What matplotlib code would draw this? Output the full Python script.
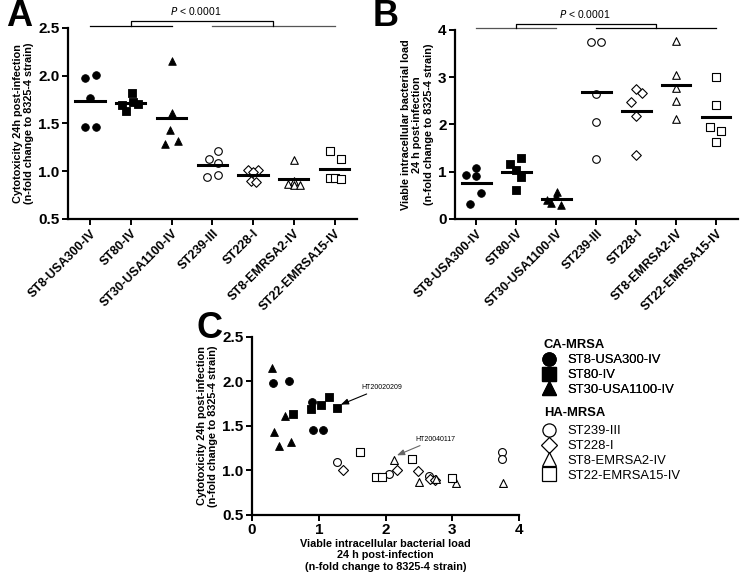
import numpy as np
import matplotlib
matplotlib.use('Agg')
import matplotlib.pyplot as plt
from matplotlib.lines import Line2D

plt.rcParams['font.family'] = ['Liberation Sans', 'DejaVu Sans']

# strains (order of panels A/B)
strains = ['ST8-USA300-IV', 'ST80-IV', 'ST30-USA1100-IV', 'ST239-III',
           'ST228-I', 'ST8-EMRSA2-IV', 'ST22-EMRSA15-IV']
markers = ['o', 's', '^', 'o', 'D', '^', 's']
filled = [True, True, True, False, False, False, False]

# viable intracellular load (n-fold), per isolate
load_st8 = [0.32, 0.55, 0.90, 0.92, 1.07]
load_st80 = [0.62, 0.88, 1.03, 1.16, 1.28]
load_st30 = [0.30, 0.49, 0.33, 0.41, 0.58]
load_st239 = [1.27, 2.05, 2.65, 3.75, 3.75]
load_st228 = [1.36, 2.17, 2.48, 2.66, 2.74]
load_emrsa2 = [2.12, 2.50, 2.76, 3.05, 3.76]
load_emrsa15 = [1.62, 1.85, 1.95, 2.40, 3.00]

# cytotoxicity 24h (n-fold), same isolates
cyto_st8 = [1.98, 2.01, 1.77, 1.46, 1.46]
cyto_st80 = [1.63, 1.69, 1.73, 1.82, 1.70]
cyto_st30 = [2.15, 1.61, 1.43, 1.28, 1.32]
cyto_st239 = [1.09, 0.96, 0.94, 1.21, 1.13]
cyto_st228 = [1.01, 1.01, 0.99, 0.90, 0.89]
cyto_emrsa2 = [1.12, 0.87, 0.90, 0.86, 0.86]
cyto_emrsa15 = [1.21, 0.93, 0.93, 1.13, 0.92]

loads = [load_st8, load_st80, load_st30, load_st239, load_st228, load_emrsa2, load_emrsa15]
cytos = [cyto_st8, cyto_st80, cyto_st30, cyto_st239, cyto_st228, cyto_emrsa2, cyto_emrsa15]

# horizontal scatter offsets (dot-plot spread)
jit_a = [[-0.13, 0.14, 0.0, -0.13, 0.14],
         [-0.12, -0.22, 0.05, 0.02, 0.18],
         [0.0, 0.0, -0.03, -0.17, 0.17],
         [0.15, 0.15, -0.13, 0.14, -0.07],
         [-0.12, 0.12, 0.0, -0.06, 0.07],
         [0.0, -0.15, 0.0, 0.0, 0.15],
         [-0.12, -0.12, 0.02, 0.15, 0.16]]
jit_b = [[-0.15, 0.12, 0.0, -0.27, 0.0],
         [0.0, 0.12, 0.0, -0.15, 0.12],
         [0.12, 0.0, -0.12, -0.22, 0.03],
         [0.0, 0.0, 0.0, -0.13, 0.12],
         [0.0, 0.0, -0.13, 0.14, 0.0],
         [0.0, 0.0, 0.0, 0.0, 0.0],
         [0.0, 0.12, -0.15, 0.0, 0.0]]

fig = plt.figure(figsize=(7.42, 5.77), dpi=100)
axA = fig.add_axes([0.0916, 0.6205, 0.389, 0.331])
axB = fig.add_axes([0.613, 0.6205, 0.381, 0.328])
axC = fig.add_axes([0.3396, 0.1075, 0.36, 0.3085])

LABFS = 7.8


def style(ax):
    for s in ['top', 'right']:
        ax.spines[s].set_visible(False)
    for s in ['left', 'bottom']:
        ax.spines[s].set_linewidth(1.6)
    ax.tick_params(width=1.4, length=4, labelsize=11, pad=2)
    for lab in ax.get_yticklabels() + ax.get_xticklabels():
        lab.set_fontweight('bold')


def mstyle(i):
    if filled[i]:
        return dict(facecolor='black', edgecolor='black', linewidths=0.6)
    return dict(facecolor='white', edgecolor='black', linewidths=0.8)


def dotplot(ax, vals, jit):
    for i, v in enumerate(vals):
        x = i + np.array(jit[i])
        s = 30 if markers[i] != 'D' else 24
        ax.scatter(x, v, marker=markers[i], s=s, zorder=3, **mstyle(i))
        ax.plot([i - 0.36, i + 0.36], [np.mean(v)] * 2, color='black', lw=2.2, zorder=4)
    ax.set_xlim(-0.54, 6.54)
    ax.set_xticks(range(len(strains)))
    ax.set_xticklabels(strains, rotation=45, ha='right', rotation_mode='anchor',
                       fontsize=9, fontweight='bold')


# Panel A
dotplot(axA, cytos, jit_a)
axA.set_ylim(0.5, 2.5)
axA.set_yticks([0.5, 1.0, 1.5, 2.0, 2.5])
axA.set_yticklabels(['0.5', '1.0', '1.5', '2.0', '2.5'])
axA.set_ylabel('Cytotoxicity 24h post-infection\n(n-fold change to 8325-4 strain)',
               fontsize=LABFS, fontweight='bold', labelpad=3)
style(axA)
axA.tick_params(axis='x', labelsize=9)
kw = dict(clip_on=False, lw=0.9)
axA.plot([0, 2], [2.52, 2.52], color='black', **kw)
axA.plot([3, 6], [2.52, 2.52], color='#555555', **kw)
axA.plot([1, 1, 4.5, 4.5], [2.52, 2.575, 2.575, 2.52], color='black', **kw)
axA.text(2.6, 2.62, '$\\it{P}$ < 0.0001', ha='center', va='bottom', fontsize=7.5)

# Panel B
dotplot(axB, loads, jit_b)
axB.set_ylim(0, 4)
axB.set_yticks([0, 1, 2, 3, 4])
axB.set_ylabel('Viable intracellular bacterial load\n24 h post-infection\n(n-fold change to 8325-4 strain)',
               fontsize=LABFS, fontweight='bold', labelpad=3)
style(axB)
axB.tick_params(axis='x', labelsize=9)
axB.plot([0, 2], [4.03, 4.03], color='#555555', **kw)
axB.plot([3, 6], [4.03, 4.03], color='black', **kw)
axB.plot([1, 1, 4.5, 4.5], [4.03, 4.13, 4.13, 4.03], color='black', **kw)
axB.text(2.7, 4.2, '$\\it{P}$ < 0.0001', ha='center', va='bottom', fontsize=7.5)

# Panel C
for i in range(len(strains)):
    s = 32 if markers[i] != 'D' else 26
    axC.scatter(loads[i], cytos[i], marker=markers[i], s=s, zorder=3, **mstyle(i))
axC.set_xlim(0, 4)
axC.set_ylim(0.5, 2.5)
axC.set_xticks([0, 1, 2, 3, 4])
axC.set_yticks([0.5, 1.0, 1.5, 2.0, 2.5])
axC.set_yticklabels(['0.5', '1.0', '1.5', '2.0', '2.5'])
axC.set_ylabel('Cytotoxicity 24h post-infection\n(n-fold change to 8325-4 strain)',
               fontsize=LABFS, fontweight='bold', labelpad=3)
axC.set_xlabel('Viable intracellular bacterial load\n24 h post-infection\n(n-fold change to 8325-4 strain)',
               fontsize=LABFS, fontweight='bold', labelpad=1)
style(axC)
axC.annotate('HT20020209', xy=(1.33, 1.74), xytext=(1.64, 1.93), fontsize=5, va='center',
             arrowprops=dict(arrowstyle='-|>,head_length=0.9,head_width=0.35',
                             color='black', lw=0.8, shrinkA=0, shrinkB=0))
axC.annotate('HT20040117', xy=(2.17, 1.17), xytext=(2.44, 1.35), fontsize=5, va='center',
             arrowprops=dict(arrowstyle='-|>,head_length=0.9,head_width=0.35',
                             color='#666666', lw=0.8, shrinkA=0, shrinkB=0))


def handle(i):
    return Line2D([], [], marker=markers[i], ls='none', markersize=9.5 if markers[i] != 'D' else 8.5,
                  markerfacecolor='black' if filled[i] else 'white',
                  markeredgecolor='black', markeredgewidth=0.9)


# legend: group headers + entries
legkw = dict(loc='upper left', frameon=False, fontsize=9.4, handlelength=1.0,
             handletextpad=0.9, labelspacing=0.2, borderpad=0, borderaxespad=0)
fig.text(0.733, 0.402, 'CA-MRSA', fontsize=9.4, fontweight='bold', va='center')
leg1 = fig.legend([handle(i) for i in range(3)], strains[:3],
                  bbox_to_anchor=(0.731, 0.386), **legkw)
fig.text(0.733, 0.284, 'HA-MRSA', fontsize=9.4, fontweight='bold', va='center')
leg2 = fig.legend([handle(i) for i in range(3, 7)], strains[3:],
                  bbox_to_anchor=(0.731, 0.263), **legkw)
fig.add_artist(leg1)

fig.text(0.008, 0.955, 'A', fontsize=26, fontweight='bold')
fig.text(0.502, 0.955, 'B', fontsize=26, fontweight='bold')
fig.text(0.265, 0.415, 'C', fontsize=26, fontweight='bold')

fig.savefig('out.png', dpi=100)
